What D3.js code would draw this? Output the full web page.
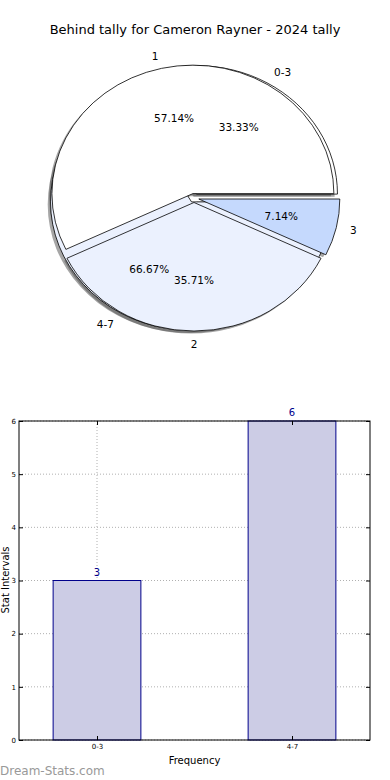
<!DOCTYPE html>
<html>
<head>
<meta charset="utf-8">
<script src="https://cdn.jsdelivr.net/npm/d3@7"></script>
<style>
  body { margin: 0; background: #fff; }
  svg { display: block; font-family: "DejaVu Sans", sans-serif; }
</style>
</head>
<body>
<div id="chart"></div>
<script>
const WIDTH = 390;
const HEIGHT = 780;

// pie data (two pies drawn on top of each other)
const tallyLabels = ["1", "2", "3"];
const tallyValues = [8, 5, 1];
const tallyColors = ["#ffffff", "#ebf1fe", "#c5d9fd"];

const rangeLabels = ["0-3", "4-7"];
const rangeValues = [3, 6];
const rangeColors = ["#ffffff", "#ebf1fe"];

// bar data
const barCategories = ["0-3", "4-7"];
const barValues = [3, 6];
const yTicks = [0, 1, 2, 3, 4, 5, 6];

const svg = d3.select("#chart")
  .append("svg")
  .attr("width", WIDTH)
  .attr("height", HEIGHT)
  .attr("viewBox", [0, 0, WIDTH, HEIGHT]);

svg.append("text")
  .attr("x", 195)
  .attr("y", 34)
  .attr("text-anchor", "middle")
  .attr("font-size", 13)
  .text("Behind tally for Cameron Rayner - 2024 tally");

// ---- pie ----
const cx = 194, cy = 198, rx = 141, ry = 128.5;
const explode = 0.035;

// matplotlib style: start at 3 o'clock, go counterclockwise
const pie = d3.pie().sort(null)
  .startAngle(Math.PI / 2)
  .endAngle(Math.PI / 2 - 2 * Math.PI);

const unitArc = d3.arc().innerRadius(0).outerRadius(1);

const makeSlices = (labels, values, colors) =>
  pie(values).map((d, i) => {
    const mid = (d.startAngle + d.endAngle) / 2;
    return {
      arc: { startAngle: Math.min(d.startAngle, d.endAngle), endAngle: Math.max(d.startAngle, d.endAngle) },
      mid: mid,
      label: labels[i],
      pct: (d.value / d3.sum(values) * 100).toFixed(2) + "%",
      color: colors[i],
      ox: cx + Math.sin(mid) * explode * rx,
      oy: cy - Math.cos(mid) * explode * ry
    };
  });

const rangeSlices = makeSlices(rangeLabels, rangeValues, rangeColors);
const tallySlices = makeSlices(tallyLabels, tallyValues, tallyColors);
const allSlices = rangeSlices.concat(tallySlices);

const pieG = svg.append("g");

// shadows first
pieG.selectAll(".shadow")
  .data(allSlices)
  .enter().append("path")
  .attr("class", "shadow")
  .attr("transform", d => `translate(${d.ox - 0.02 * rx},${d.oy + 0.02 * ry}) scale(${rx},${ry})`)
  .attr("d", d => unitArc(d.arc))
  .attr("fill", "#4d4d4d")
  .attr("opacity", 0.5);

pieG.selectAll(".wedge")
  .data(allSlices)
  .enter().append("path")
  .attr("class", "wedge")
  .attr("transform", d => `translate(${d.ox},${d.oy}) scale(${rx},${ry})`)
  .attr("d", d => unitArc(d.arc))
  .attr("fill", d => d.color)
  .attr("stroke", "#000")
  .attr("stroke-width", 0.8)
  .attr("stroke-linejoin", "round")
  .attr("vector-effect", "non-scaling-stroke");

pieG.selectAll(".outer-label")
  .data(allSlices)
  .enter().append("text")
  .attr("x", d => d.ox + 1.1 * rx * Math.sin(d.mid))
  .attr("y", d => d.oy - 1.1 * ry * Math.cos(d.mid))
  .attr("text-anchor", d => Math.abs(Math.sin(d.mid)) < 1e-6 ? "middle" : (Math.sin(d.mid) > 0 ? "start" : "end"))
  .attr("dominant-baseline", "central")
  .attr("font-size", 10.5)
  .text(d => d.label);

pieG.selectAll(".pct-label")
  .data(allSlices)
  .enter().append("text")
  .attr("x", d => d.ox + 0.6 * rx * Math.sin(d.mid))
  .attr("y", d => d.oy - 0.6 * ry * Math.cos(d.mid))
  .attr("text-anchor", "middle")
  .attr("dominant-baseline", "central")
  .attr("font-size", 10.5)
  .text(d => d.pct);

// ---- bar chart ----
const plot = { left: 19, right: 370, top: 421, bottom: 740 };

const x = d3.scaleLinear().domain([-0.4, 1.4]).range([plot.left, plot.right]);
const y = d3.scaleLinear().domain([0, 6]).range([plot.bottom, plot.top]);
const barWidth = 0.45;

const barG = svg.append("g");

// grid
barG.selectAll(".hgrid")
  .data(yTicks)
  .enter().append("line")
  .attr("x1", plot.left).attr("x2", plot.right)
  .attr("y1", d => y(d)).attr("y2", d => y(d))
  .attr("stroke", "#b0b0b0")
  .attr("stroke-width", 1)
  .attr("stroke-dasharray", "1,2");

barG.selectAll(".vgrid")
  .data(barCategories)
  .enter().append("line")
  .attr("x1", (d, i) => x(i)).attr("x2", (d, i) => x(i))
  .attr("y1", plot.top).attr("y2", plot.bottom)
  .attr("stroke", "#b0b0b0")
  .attr("stroke-width", 1)
  .attr("stroke-dasharray", "1,2");

barG.selectAll(".bar")
  .data(barValues)
  .enter().append("rect")
  .attr("x", (d, i) => x(i - barWidth / 2))
  .attr("width", (d, i) => x(i + barWidth / 2) - x(i - barWidth / 2))
  .attr("y", d => y(d))
  .attr("height", d => y(0) - y(d))
  .attr("fill", "#ccccE5")
  .attr("stroke", "#00008b")
  .attr("stroke-width", 1);

barG.selectAll(".bar-label")
  .data(barValues)
  .enter().append("text")
  .attr("x", (d, i) => x(i))
  .attr("y", d => y(d) - 5)
  .attr("text-anchor", "middle")
  .attr("font-size", 10)
  .attr("fill", "#00008b")
  .text(d => d);

// axes: ticks point inward on all sides
const yAxisL = d3.axisLeft(y).tickValues(yTicks).tickFormat(d3.format("d"))
  .tickSizeInner(-4).tickSizeOuter(0).tickPadding(3);
const yAxisR = d3.axisRight(y).tickValues(yTicks).tickSizeInner(-4).tickSizeOuter(0).tickFormat("");
const xAxisB = d3.axisBottom(x).tickValues(d3.range(barCategories.length))
  .tickFormat(i => barCategories[i]).tickSizeInner(-4).tickSizeOuter(0).tickPadding(4);
const xAxisT = d3.axisTop(x).tickValues(d3.range(barCategories.length))
  .tickFormat("").tickSizeInner(-4).tickSizeOuter(0);

const styleAxis = g => {
  g.select(".domain").remove();
  g.selectAll(".tick line").attr("stroke", "#000");
  g.selectAll(".tick text").attr("font-size", 7).attr("font-family", "DejaVu Sans").attr("fill", "#000");
};

barG.append("g").attr("transform", `translate(${plot.left},0)`).call(yAxisL).call(styleAxis);
barG.append("g").attr("transform", `translate(${plot.right},0)`).call(yAxisR).call(styleAxis);
barG.append("g").attr("transform", `translate(0,${plot.bottom})`).call(xAxisB).call(styleAxis);
barG.append("g").attr("transform", `translate(0,${plot.top})`).call(xAxisT).call(styleAxis);

barG.append("rect")
  .attr("x", plot.left).attr("y", plot.top)
  .attr("width", plot.right - plot.left)
  .attr("height", plot.bottom - plot.top)
  .attr("fill", "none")
  .attr("stroke", "#000")
  .attr("stroke-width", 1);

svg.append("text")
  .attr("x", (plot.left + plot.right) / 2)
  .attr("y", 764)
  .attr("text-anchor", "middle")
  .attr("font-size", 10)
  .text("Frequency");

svg.append("text")
  .attr("transform", "translate(9,580) rotate(-90)")
  .attr("text-anchor", "middle")
  .attr("font-size", 10)
  .text("Stat Intervals");

svg.append("text")
  .attr("x", 0)
  .attr("y", 775)
  .attr("font-size", 12)
  .attr("fill", "#999999")
  .text("Dream-Stats.com");
</script>
</body>
</html>
